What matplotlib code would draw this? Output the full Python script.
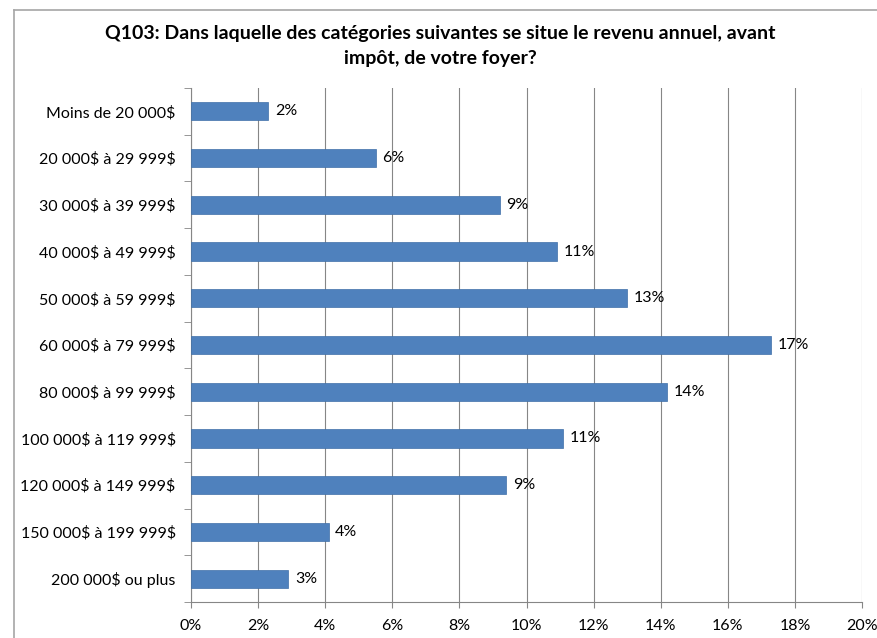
import matplotlib.pyplot as plt
from matplotlib.lines import Line2D
from matplotlib.ticker import FuncFormatter

categories = [
    "Moins de 20 000$",
    "20 000$ à 29 999$",
    "30 000$ à 39 999$",
    "40 000$ à 49 999$",
    "50 000$ à 59 999$",
    "60 000$ à 79 999$",
    "80 000$ à 99 999$",
    "100 000$ à 119 999$",
    "120 000$ à 149 999$",
    "150 000$ à 199 999$",
    "200 000$ ou plus",
]
values = [2.3, 5.5, 9.2, 10.9, 13.0, 17.3, 14.2, 11.1, 9.4, 4.1, 2.9]
labels = ["2%", "6%", "9%", "11%", "13%", "17%", "14%", "11%", "9%", "4%", "3%"]
xticks = [0, 2, 4, 6, 8, 10, 12, 14, 16, 18, 20]

title = "Q103: Dans laquelle des catégories suivantes se situe le revenu annuel, avant\nimpôt, de votre foyer?"

plt.rcParams["font.family"] = ["Lato", "DejaVu Sans"]
plt.rcParams["text.parse_math"] = False  # les "$" ne sont pas des maths

W, H = 877, 638
fig = plt.figure(figsize=(W / 100, H / 100), dpi=100)

# cadre du graphique: seulement gauche et haut visibles (image rognée)
frame_kw = dict(transform=fig.transFigure, color="#a6a6a6", linewidth=1.2)
fig.add_artist(Line2D([14 / W, 14 / W], [0, 1 - 10 / H], **frame_kw))
fig.add_artist(Line2D([14 / W, 1], [1 - 10 / H, 1 - 10 / H], **frame_kw))

left, right, top, bottom = 191, 862, 88, 602
ax = fig.add_axes([left / W, 1 - bottom / H, (right - left) / W, (bottom - top) / H])

y = list(range(len(categories)))
ax.barh(y, values, height=0.39, color="#4F81BD", edgecolor="#3f6fa8",
        linewidth=0.5, zorder=3)
for yi, v, lab in zip(y, values, labels):
    ax.text(v + 0.2, yi, lab, va="center", ha="left", fontsize=11.5, zorder=4)

ax.set_ylim(len(categories) - 0.5, -0.5)
ax.set_xlim(0, 20)
ax.set_xticks(xticks)
ax.xaxis.set_major_formatter(FuncFormatter(lambda v, p: f"{v:.0f}%"))
ax.set_yticks(y)
ax.set_yticklabels(categories)
ax.set_yticks([i - 0.5 for i in range(len(categories) + 1)], minor=True)
ax.tick_params(axis="y", which="major", length=0, pad=11, labelsize=11.5)
ax.tick_params(axis="y", which="minor", length=5, color="#868686")
ax.tick_params(axis="x", length=4, color="#868686", labelsize=11.5, pad=8)

ax.grid(axis="x", color="#868686", linewidth=0.8, zorder=0)
for s in ["top", "right"]:
    ax.spines[s].set_visible(False)
for s in ["left", "bottom"]:
    ax.spines[s].set_color("#868686")

fig.text(440 / W, 1 - 46 / H, title, ha="center", va="center",
         fontsize=14, fontweight="bold", linespacing=1.6)

fig.savefig("out.png", dpi=100)
